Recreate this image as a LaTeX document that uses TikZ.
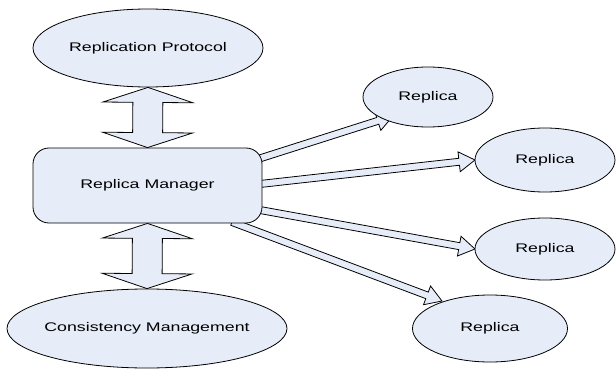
\documentclass[tikz,border=0pt]{standalone}
\usepackage{fontspec}
\setmainfont{Liberation Sans}[FakeStretch=1.42]
\usetikzlibrary{shapes.geometric,calc,backgrounds}
\definecolor{fillblue}{RGB}{230,236,248}
\tikzset{
  shp/.style={draw=black, fill=fillblue, line width=0.8pt, inner sep=0pt, font=\fontsize{12.5}{14}\selectfont},
  ell/.style={shp, ellipse},
  rbox/.style={shp, rectangle, rounded corners=16pt},
  blk/.style={draw=black, fill=fillblue, line width=0.8pt, line join=miter}
}
\newcommand\zb[1]{\makebox[0pt]{#1}}
% single block arrow: #1 start, #2 end
\newcommand\blockarrow[2]{%
\draw[blk] let \p1=($(#2)-(#1)$), \n1={atan2(\y1,\x1)} in
 ($(#1)+(\n1+90:3.5pt)$) -- ($(#2)+(\n1+180:16pt)+(\n1+90:3.5pt)$) --
 ($(#2)+(\n1+180:16pt)+(\n1+90:10pt)$) -- (#2) --
 ($(#2)+(\n1+180:16pt)+(\n1-90:10pt)$) -- ($(#2)+(\n1+180:16pt)+(\n1-90:3.5pt)$) --
 ($(#1)+(\n1-90:3.5pt)$) -- cycle;}
% double block arrow
\newcommand\dblarrow[2]{%
\draw[blk] let \p1=($(#2)-(#1)$), \n1={atan2(\y1,\x1)} in
 (#1) -- ($(#1)+(\n1:15pt)+(\n1+90:45pt)$) -- ($(#1)+(\n1:15pt)+(\n1+90:15pt)$) --
 ($(#2)+(\n1+180:15pt)+(\n1+90:15pt)$) -- ($(#2)+(\n1+180:15pt)+(\n1+90:45pt)$) --
 (#2) --
 ($(#2)+(\n1+180:15pt)+(\n1-90:45pt)$) -- ($(#2)+(\n1+180:15pt)+(\n1-90:15pt)$) --
 ($(#1)+(\n1:15pt)+(\n1-90:15pt)$) -- ($(#1)+(\n1:15pt)+(\n1-90:45pt)$) -- cycle;}
\begin{document}
\begin{tikzpicture}[x=1pt,y=-1pt]
\useasboundingbox (0,0) rectangle (616,369);
\node[ell, minimum width=230pt, minimum height=78pt] (rp) at (148,48) {\zb{Replication Protocol}};
\node[rbox, minimum width=229pt, minimum height=75pt] (rm) at (147.5,185.5) {\zb{Replica Manager}};
\node[ell, minimum width=280pt, minimum height=79pt] (cm) at (147,328.5) {\zb{Consistency Management}};
\node[ell, minimum width=130pt, minimum height=60pt] (r1) at (428,97) {\zb{Replica}};
\node[ell, minimum width=140pt, minimum height=64pt] (r2) at (545,160) {\zb{Replica}};
\node[ell, minimum width=140pt, minimum height=62pt] (r3) at (545,249) {\zb{Replica}};
\node[ell, minimum width=155pt, minimum height=67pt] (r4) at (490,328.5) {\zb{Replica}};
\coordinate (a1s) at (258,159);
\coordinate (a1e) at (393,116);
\coordinate (a2s) at (260,184);
\coordinate (a2e) at (475,160);
\coordinate (a3s) at (260,210);
\coordinate (a3e) at (475,249);
\coordinate (a4s) at (232,222);
\coordinate (a4e) at (442,301);
\begin{pgfonlayer}{background}
\dblarrow{rp.south}{rm.north}
\dblarrow{rm.south}{cm.north}
\blockarrow{a1s}{a1e}
\blockarrow{a2s}{a2e}
\blockarrow{a3s}{a3e}
\blockarrow{a4s}{a4e}
\end{pgfonlayer}
\end{tikzpicture}
\end{document}
